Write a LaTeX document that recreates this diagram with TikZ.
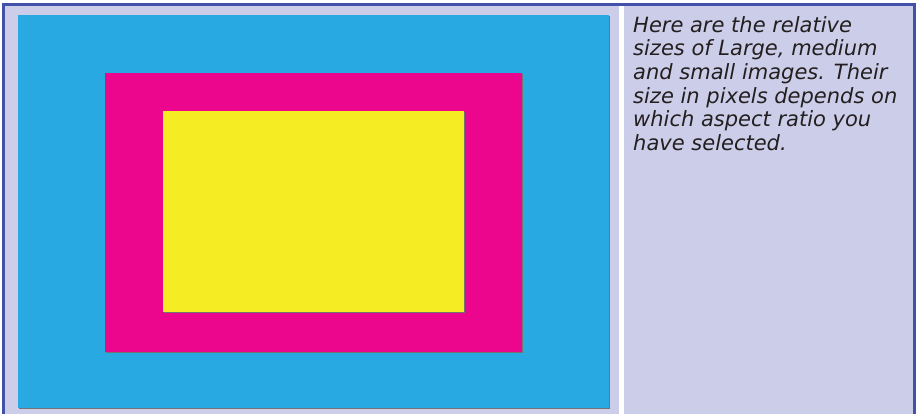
\documentclass[tikz,border=0pt]{standalone}
\usepackage{fontspec}
\setmainfont{DejaVu Sans}
\usepackage{xcolor}
\definecolor{frameBlue}{HTML}{4152A8}
\definecolor{panelLilac}{HTML}{CCCDE8}
\definecolor{largeBlue}{HTML}{29A9E1}
\definecolor{mediumPink}{HTML}{EC068D}
\definecolor{smallYellow}{HTML}{F5EC23}
\definecolor{noteText}{HTML}{231F20}
\usetikzlibrary{positioning}
\tikzset{
    % Plain filled box for one image size
    imagebox/.style={
        rectangle,
        anchor=north west,
        inner sep=0pt,
        draw=none,
        preaction={
            fill=black!55,
            transform canvas={shift={(0.9pt,-0.9pt)}}
        },
    },
    % Italic note on the right panel
    note/.style={
        anchor=north west,
        inner sep=0pt,
        align=left,
        text=noteText,
        font=\fontsize{21}{23.7}\selectfont\itshape,
    },
}

\begin{document}
\begin{tikzpicture}[x=1pt, y=-1pt]
    \useasboundingbox (0,0) rectangle (917,414);
    % panels and frame
    \fill[panelLilac] (2,3) rectangle (916,416);
    \fill[white] (619,6) rectangle (624,416);
    \draw[frameBlue, line width=3pt] (3.5,416) -- (3.5,4.5) -- (914.5,4.5) -- (914.5,416);

    \node (large) [imagebox, fill=largeBlue, minimum width=591pt, minimum height=393pt] at (18,15) {};
    \node (medium) [imagebox, fill=mediumPink, minimum width=417pt, minimum height=279pt] at (105,73) {};
    \node (small) [imagebox, fill=smallYellow, minimum width=301pt, minimum height=201pt] at (163,111) {};

    \node (caption) [note] at (633,16) {Here are the relative\\
        sizes of Large, medium\\
        and small images. Their\\
        size in pixels depends on\\
        which aspect ratio you\\
        have selected.};
\end{tikzpicture}
\end{document}
